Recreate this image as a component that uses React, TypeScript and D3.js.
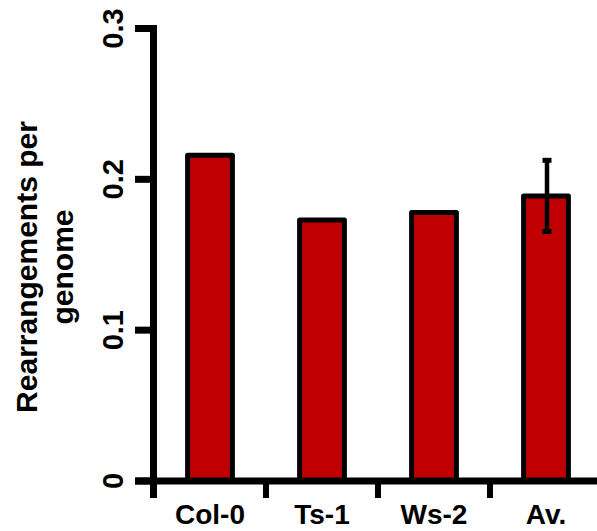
import React, { useEffect, useRef } from 'react';
import * as d3 from 'd3';

const categories = ['Col-0', 'Ts-1', 'Ws-2', 'Av.'];
const values = [0.216, 0.173, 0.178, 0.189];
const errors = [0, 0, 0, 0.0236];
const yTicks = [0, 0.1, 0.2, 0.3];
const yTickLabels = ['0', '0.1', '0.2', '0.3'];
const yLabelLines = ['Rearrangements per', 'genome'];

function App() {
  const ref = useRef<SVGSVGElement>(null);

  useEffect(() => {
    const width = 597;
    const height = 531;
    const font = "'Liberation Sans', Arial, sans-serif";

    const svg = d3.select(ref.current);
    svg.selectAll('*').remove();

    const y = d3.scaleLinear().domain([0, 0.3]).range([481, 28.5]);
    const x = d3.scaleBand().domain(categories).range([154, 602]).padding(0);
    const barW = x.bandwidth() * 0.4;
    const axisX = 153.5;
    const axisY = y(0);

    // bars
    svg.append('g')
      .selectAll('rect')
      .data(categories)
      .join('rect')
      .attr('x', d => x(d)! + x.bandwidth() / 2 - barW / 2)
      .attr('y', (d, i) => y(values[i]))
      .attr('width', barW)
      .attr('height', (d, i) => y(0) - y(values[i]))
      .attr('fill', '#C00000')
      .attr('stroke', '#000')
      .attr('stroke-width', 5)
      .attr('stroke-linejoin', 'round');

    // error bars
    const eb = svg.append('g');
    categories.forEach((c, i) => {
      if (!errors[i]) return;
      const cx = x(c)! + x.bandwidth() / 2 + 1;
      const hi = y(values[i] + errors[i]);
      const lo = y(values[i] - errors[i]);
      eb.append('line').attr('x1', cx).attr('x2', cx).attr('y1', hi).attr('y2', lo)
        .attr('stroke', '#000').attr('stroke-width', 4.5);
      [hi, lo].forEach(v => {
        eb.append('line').attr('x1', cx - 4.5).attr('x2', cx + 4.5).attr('y1', v).attr('y2', v)
          .attr('stroke', '#000').attr('stroke-width', 5);
      });
    });

    // y axis
    const ya = svg.append('g');
    ya.append('line')
      .attr('x1', axisX).attr('x2', axisX)
      .attr('y1', y(0.3) - 3.5).attr('y2', 498)
      .attr('stroke', '#000').attr('stroke-width', 7);
    ya.selectAll('line.tick')
      .data(yTicks)
      .join('line')
      .attr('class', 'tick')
      .attr('x1', 135).attr('x2', axisX)
      .attr('y1', d => y(d)).attr('y2', d => y(d))
      .attr('stroke', '#000').attr('stroke-width', 7);
    ya.selectAll('text')
      .data(yTicks)
      .join('text')
      .attr('transform', d => `translate(123,${y(d)}) rotate(-90)`)
      .attr('text-anchor', 'middle')
      .style('font', `bold 29px ${font}`)
      .text((d, i) => yTickLabels[i]);

    // x axis
    const xa = svg.append('g');
    xa.append('line')
      .attr('x1', 135).attr('x2', width)
      .attr('y1', axisY).attr('y2', axisY)
      .attr('stroke', '#000').attr('stroke-width', 7);
    xa.selectAll('line.tick')
      .data(categories.slice(1))
      .join('line')
      .attr('class', 'tick')
      .attr('x1', d => x(d)!).attr('x2', d => x(d)!)
      .attr('y1', axisY).attr('y2', 498)
      .attr('stroke', '#000').attr('stroke-width', 6);
    xa.selectAll('text')
      .data(categories)
      .join('text')
      .attr('x', d => x(d)! + x.bandwidth() / 2)
      .attr('y', 524)
      .attr('text-anchor', 'middle')
      .style('font', `bold 28px ${font}`)
      .text(d => d);

    // y label
    svg.append('g')
      .attr('transform', 'translate(37,267) rotate(-90)')
      .selectAll('text')
      .data(yLabelLines)
      .join('text')
      .attr('x', 0)
      .attr('y', (d, i) => i * 36)
      .attr('text-anchor', 'middle')
      .style('font', `bold 30px ${font}`)
      .text(d => d);

    svg.attr('width', width).attr('height', height);
  }, []);

  return (
    <svg ref={ref} width={597} height={531}
      style={{ position: 'absolute', left: 0, top: 0, background: '#fff' }} />
  );
}

export default App;
